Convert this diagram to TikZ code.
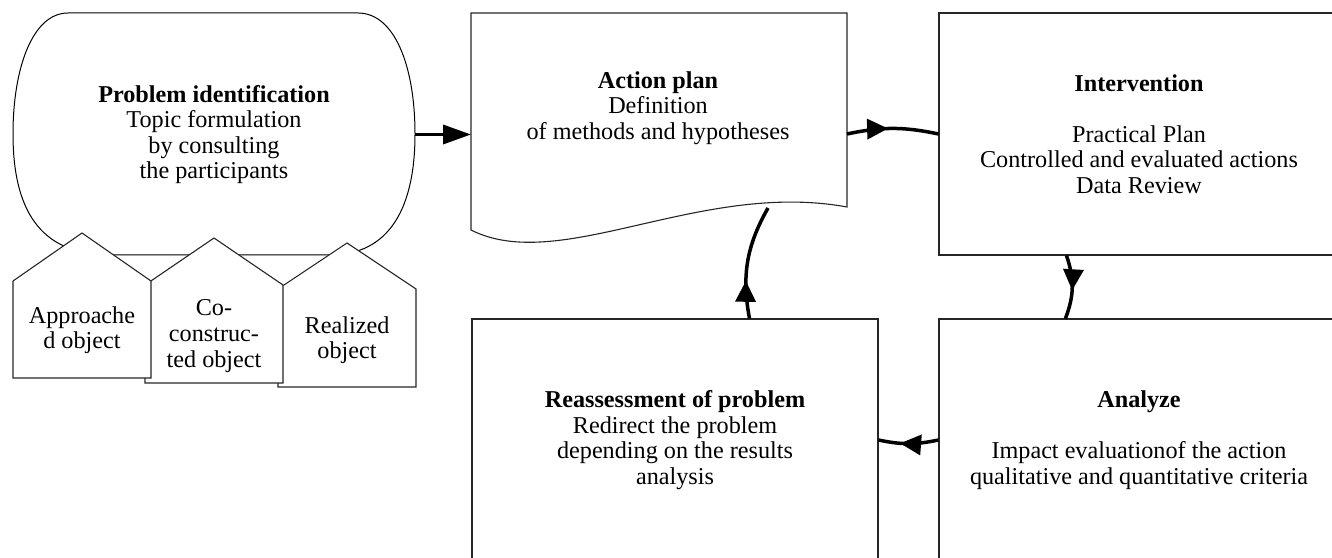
\documentclass[tikz,border=0pt]{standalone}
\usepackage{fontspec}
\setmainfont{Liberation Serif}
\usetikzlibrary{arrows.meta,positioning,calc,decorations.markings}

\begin{document}
\begin{tikzpicture}[x=0.5pt, y=0.5pt,
    txt/.style={align=center, font=\fontsize{12.1}{12.8}\selectfont, inner sep=0pt},
    area/.style={inner sep=0pt, outer sep=0pt},
    frame/.style={draw=black!85, line width=0.55pt},
    house/.style={draw=black!85, fill=white, line width=0.55pt},
    flow/.style={line width=1.75pt},
    midarrow/.style={postaction={decorate}, decoration={markings, mark=at position #1 with {\arrow{Triangle[length=10.5pt,width=10pt]}}}}]
    \useasboundingbox (0,0) rectangle (1332,557);
    \clip (0,0) rectangle (1332,557);

    \node[txt, area, minimum width=201pt, minimum height=121pt] (problem) at (214,422.5) {\textbf{Problem identification}\\Topic formulation\\by consulting\\the participants};
    \draw[line width=0.5pt] (68,544) -- (358,544) .. controls (395,544) and (415,490) .. (415,423) .. controls (415,350) and (390,302) .. (330,302) -- (110,302) .. controls (38,302) and (13,350) .. (13,423) .. controls (13,490) and (33,544) .. (68,544) -- cycle;

    \draw[house] (278,170) -- (416,170) -- (416,268) -- (347,314) -- (278,268) -- cycle;
    \node[txt] (realized) at (347,217) {Realized\\object};
    \draw[house] (145,174) -- (283,174) -- (283,272) -- (214,319) -- (145,272) -- cycle;
    \node[txt] (coobject) at (214,221) {Co-\\construc-\\ted object};
    \draw[house] (13,179) -- (151,179) -- (151,276) -- (82,324) -- (13,276) -- cycle;
    \node[txt] (approached) at (82,227) {Approache\\d object};

    \node[area, minimum width=188pt, minimum height=108.5pt] (plan) at (659,435.5) {};
    \draw[frame] (plan.south west) -- (plan.north west) -- (plan.north east) -- ($(plan.south east)+(0,23)$) .. controls ($(plan.south east)+(-147,50)$) and ($(plan.south west)+(89,-45)$) .. (plan.south west) -- cycle;
    \node[txt] (plantxt) at (658,449) {\textbf{Action plan}\\Definition\\of methods and hypotheses};

    \node[txt, frame, minimum width=200pt, minimum height=121pt] (interv) at (1139,423) {\textbf{Intervention}\\[12.8pt]Practical Plan\\Controlled and evaluated actions\\Data Review};
    \node[txt, frame, minimum width=200pt, minimum height=121pt] (analyze) at (1139,117) {\textbf{Analyze}\\[12.8pt]Impact evaluationof the action\\qualitative and quantitative criteria};
    \node[txt, frame, minimum width=203pt, minimum height=121pt] (reassess) at (675,117) {\textbf{Reassessment of problem}\\Redirect the problem\\depending on the results\\analysis};

    \draw[flow, -{Triangle[length=14pt,width=9.5pt]}] (problem.east) -- (problem.east -| plan.west);
    \draw[flow, midarrow=0.45] (plan.east |- interv.west) to[bend left=12] (interv.west);
    \draw[flow, midarrow=0.55] ($(interv.south west)+(128,0)$) to[bend left=20] ($(analyze.north west)+(127,0)$);
    \draw[flow, midarrow=0.64] (analyze.west) to[bend left=12] (reassess.east);
    \draw[flow, midarrow=0.33] ($(reassess.north west)+(278,0)$) to[bend left=20] ($(plan.south west)+(297,22)$);
\end{tikzpicture}
\end{document}
